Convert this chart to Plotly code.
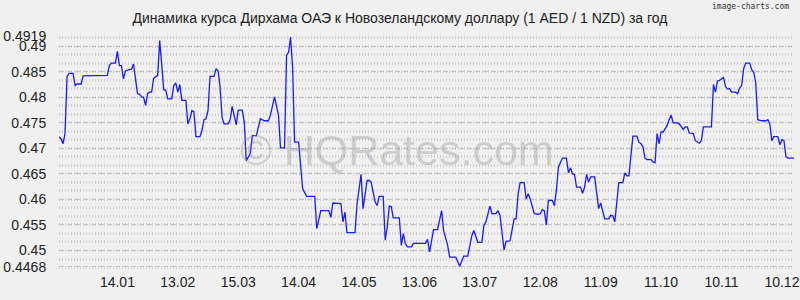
import plotly.graph_objects as go
import pandas as pd

start_date = "2024-12-16"
end_date = "2025-12-16"

day_offsets = [
    0, 1, 2, 3, 4, 5, 7, 8, 9, 11, 12, 24, 25, 26, 28, 29, 30, 31, 32, 33,
    35, 36, 37, 38, 39, 40, 41, 42, 43, 44, 45, 46, 47, 49, 50, 51, 52, 53, 54, 56,
    57, 58, 59, 60, 61, 63, 64, 65, 66, 67, 68, 70, 71, 72, 73, 74, 75, 77, 78, 79,
    80, 81, 82, 84, 85, 86, 87, 88, 89, 91, 92, 93, 95, 96, 98, 99, 100, 102, 104, 105,
    107, 109, 110, 112, 113, 114, 115, 116, 117, 119, 120, 121, 123, 127, 128, 129, 130, 134, 135, 136,
    139, 140, 141, 142, 143, 147, 148, 149, 150, 151, 153, 154, 155, 157, 158, 159, 161, 162, 163, 164,
    165, 166, 169, 170, 171, 172, 173, 175, 176, 177, 182, 183, 184, 186, 188, 190, 191, 193, 194, 197,
    199, 201, 203, 205, 206, 208, 210, 211, 212, 214, 215, 217, 218, 219, 221, 222, 224, 226, 227, 228,
    229, 231, 232, 233, 234, 236, 238, 239, 240, 241, 242, 243, 245, 246, 247, 248, 250, 252, 253, 254,
    255, 256, 257, 259, 260, 261, 262, 263, 264, 266, 267, 268, 269, 271, 273, 274, 275, 276, 278, 280,
    281, 282, 283, 285, 287, 288, 289, 290, 291, 292, 294, 295, 296, 297, 298, 299, 300, 302, 303, 304,
    305, 307, 308, 310, 311, 312, 313, 315, 316, 318, 319, 320, 324, 325, 326, 327, 328, 330, 331, 332,
    333, 334, 336, 337, 338, 339, 340, 341, 343, 344, 345, 346, 347, 349, 351, 352, 353, 354, 355, 357,
    358, 359, 360, 361, 362, 365,
]

rates = [
    0.4722, 0.4719, 0.4709, 0.4729, 0.4841, 0.4847, 0.4847, 0.4823, 0.4826, 0.4826,
    0.4842, 0.4843, 0.4862, 0.4867, 0.4867, 0.4890, 0.4862, 0.4862, 0.4836, 0.4852,
    0.4854, 0.4855, 0.4865, 0.4839, 0.4807, 0.4806, 0.4801, 0.4800, 0.4784, 0.4807,
    0.4810, 0.4810, 0.4837, 0.4843, 0.4911, 0.4865, 0.4815, 0.4814, 0.4797, 0.4797,
    0.4823, 0.4828, 0.4810, 0.4825, 0.4794, 0.4794, 0.4748, 0.4758, 0.4774, 0.4772,
    0.4723, 0.4723, 0.4735, 0.4756, 0.4758, 0.4774, 0.4841, 0.4841, 0.4856, 0.4852,
    0.4820, 0.4760, 0.4748, 0.4748, 0.4756, 0.4782, 0.4765, 0.4746, 0.4775, 0.4775,
    0.4752, 0.4676, 0.4690, 0.4725, 0.4725, 0.4739, 0.4758, 0.4754, 0.4754, 0.4765,
    0.4801, 0.4765, 0.4701, 0.4701, 0.4882, 0.4888, 0.4918, 0.4859, 0.4712, 0.4712,
    0.4670, 0.4621, 0.4606, 0.4606, 0.4543, 0.4559, 0.4578, 0.4578, 0.4565, 0.4593,
    0.4593, 0.4592, 0.4556, 0.4575, 0.4535, 0.4535, 0.4591, 0.4624, 0.4649, 0.4582,
    0.4637, 0.4637, 0.4634, 0.4595, 0.4588, 0.4606, 0.4606, 0.4520, 0.4546, 0.4587,
    0.4586, 0.4564, 0.4564, 0.4510, 0.4533, 0.4513, 0.4507, 0.4507, 0.4514, 0.4514,
    0.4514, 0.4522, 0.4497, 0.4541, 0.4541, 0.4578, 0.4539, 0.4510, 0.4487, 0.4487,
    0.4469, 0.4489, 0.4489, 0.4529, 0.4539, 0.4516, 0.4516, 0.4549, 0.4556, 0.4587,
    0.4572, 0.4572, 0.4578, 0.4569, 0.4501, 0.4518, 0.4519, 0.4562, 0.4562, 0.4611,
    0.4633, 0.4633, 0.4601, 0.4611, 0.4601, 0.4572, 0.4571, 0.4572, 0.4580, 0.4578,
    0.4550, 0.4598, 0.4598, 0.4588, 0.4618, 0.4663, 0.4681, 0.4681, 0.4652, 0.4662,
    0.4650, 0.4649, 0.4624, 0.4624, 0.4612, 0.4624, 0.4649, 0.4634, 0.4644, 0.4644,
    0.4611, 0.4582, 0.4593, 0.4562, 0.4562, 0.4569, 0.4568, 0.4556, 0.4633, 0.4633,
    0.4652, 0.4646, 0.4646, 0.4724, 0.4724, 0.4712, 0.4709, 0.4703, 0.4681, 0.4678,
    0.4678, 0.4673, 0.4672, 0.4729, 0.4709, 0.4732, 0.4732, 0.4745, 0.4756, 0.4765,
    0.4750, 0.4750, 0.4748, 0.4737, 0.4742, 0.4742, 0.4730, 0.4729, 0.4715, 0.4710,
    0.4715, 0.4742, 0.4742, 0.4825, 0.4810, 0.4832, 0.4833, 0.4839, 0.4821, 0.4816,
    0.4817, 0.4810, 0.4810, 0.4807, 0.4818, 0.4823, 0.4856, 0.4867, 0.4867, 0.4854,
    0.4849, 0.4829, 0.4756, 0.4754, 0.4754, 0.4756, 0.4748, 0.4715, 0.4723, 0.4723,
    0.4707, 0.4717, 0.4715, 0.4684, 0.4681, 0.4681,
]

x_tick_dates = ["2025-01-14", "2025-02-13", "2025-03-15", "2025-04-14", "2025-05-14",
                "2025-06-13", "2025-07-13", "2025-08-12", "2025-09-11", "2025-10-11",
                "2025-11-10", "2025-12-10"]
x_tick_labels = ["14.01", "13.02", "15.03", "14.04", "14.05", "13.06", "13.07",
                 "12.08", "11.09", "11.10", "10.11", "10.12"]

y_tick_values = [0.4468, 0.45, 0.455, 0.46, 0.465, 0.47, 0.475, 0.48, 0.485, 0.49, 0.4919]
y_tick_labels = ["0.4468", "0.45", "0.455", "0.46", "0.465", "0.47", "0.475", "0.48",
                 "0.485", "0.49", "0.4919"]

title_text = "Динамика курса Дирхама ОАЭ к Новозеландскому доллару (1 AED / 1 NZD) за год"

dates = pd.Timestamp(start_date) + pd.to_timedelta(day_offsets, unit="D")

BG = "#f0f0f0"
FONT = "Liberation Sans, Arial, sans-serif"

fig = go.Figure()
fig.add_trace(go.Scatter(
    x=dates, y=rates, mode="lines",
    line=dict(color="#1a1aff", width=1.3),
    hoverinfo="skip", showlegend=False,
))

fig.update_layout(
    width=800, height=300,
    margin=dict(l=59, r=0, t=36, b=25, pad=0),
    paper_bgcolor=BG, plot_bgcolor=BG,
    font=dict(family=FONT, size=14, color="#222"),
    title=dict(text=title_text, x=0.5, xanchor="center", y=0.94, yanchor="middle",
               font=dict(family=FONT, size=14, color="#222")),
    showlegend=False,
)

fig.update_xaxes(
    type="date",
    range=[start_date, end_date],
    tickvals=x_tick_dates, ticktext=x_tick_labels,
    showgrid=False, zeroline=False, showline=False,
    ticks="", ticklabelstandoff=-3, ticklabeloverflow="allow",
    tickfont=dict(family=FONT, size=14, color="#222"),
)

fig.update_yaxes(
    range=[0.4452, 0.4920],
    tickvals=y_tick_values, ticktext=y_tick_labels,
    showgrid=True, gridcolor="#c4c4c4", griddash="5px,3px", gridwidth=1,
    zeroline=False, showline=False,
    ticks="outside", ticklen=9, tickcolor="rgba(0,0,0,0)",
    tickfont=dict(family=FONT, size=14, color="#222"),
    minor=dict(tick0=0.45, dtick=0.005 / 3, showgrid=True,
               gridcolor="#d2d2d2", griddash="1px,2px", gridwidth=3),
)

fig.add_annotation(
    text="© HQRates.com", xref="paper", yref="paper", x=0.46, y=0.523,
    xanchor="center", yanchor="middle", showarrow=False,
    font=dict(family=FONT, size=43, color="rgba(140,140,140,0.35)"),
)
fig.add_annotation(
    text="image-charts.com", xref="paper", yref="paper", x=1.0, y=1.0,
    yshift=30, xshift=-3, xanchor="right", yanchor="middle", showarrow=False,
    font=dict(family="DejaVu Sans Mono, monospace", size=8, color="#333"),
)

fig.write_html("out.html")
